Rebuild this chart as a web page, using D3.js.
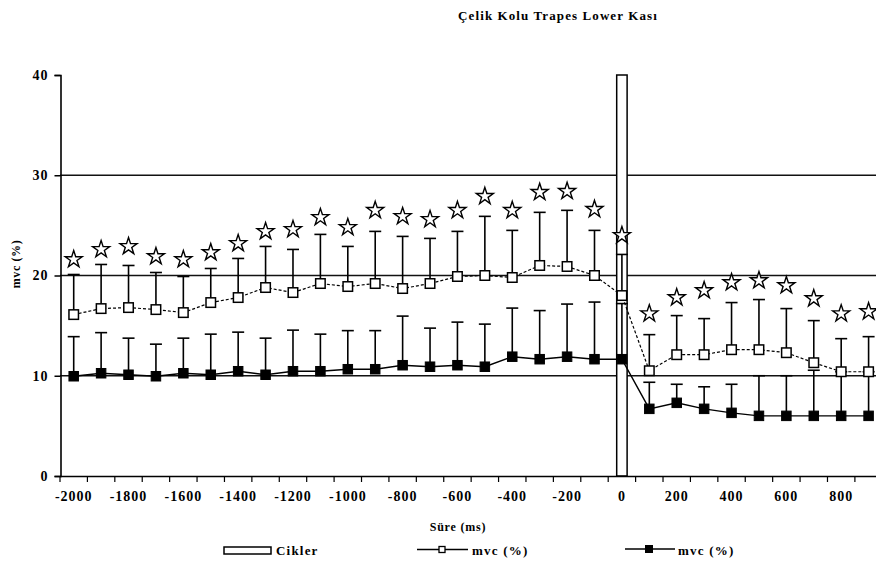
<!DOCTYPE html>
<html>
<head>
<meta charset="utf-8">
<script src="https://cdn.jsdelivr.net/npm/d3@7"></script>
<style>
  html, body { margin: 0; padding: 0; background: #fff; }
  svg { display: block; }
  text { font-family: "Liberation Serif", "DejaVu Serif", serif; font-weight: bold; fill: #000; }
</style>
</head>
<body>
<svg id="chart" width="876" height="563"></svg>
<script>
// Time points (ms) relative to the event at 0
const categories = [-2000, -1900, -1800, -1700, -1600, -1500, -1400, -1300, -1200, -1100,
                    -1000, -900, -800, -700, -600, -500, -400, -300, -200, -100,
                    0, 100, 200, 300, 400, 500, 600, 700, 800, 900];
const tickLabels = [-2000, -1800, -1600, -1400, -1200, -1000, -800, -600, -400, -200, 0, 200, 400, 600, 800];
const yTicks = [0, 10, 20, 30, 40];

// Cycle marker bar
const ciklerCats = [0];
const ciklerValues = [40];

// mvc (%) – open squares: mean and upper SD
const openMean = [16.1, 16.7, 16.8, 16.6, 16.3, 17.3, 17.8, 18.8, 18.3, 19.2,
                  18.9, 19.2, 18.7, 19.2, 19.9, 20.0, 19.8, 21.0, 20.9, 20.0,
                  18.0, 10.5, 12.1, 12.1, 12.6, 12.6, 12.3, 11.3, 10.4, 10.4];
const openSd   = [4.0, 4.4, 4.2, 3.7, 3.6, 3.4, 3.9, 4.1, 4.3, 4.9,
                  4.0, 5.2, 5.2, 4.5, 4.5, 5.9, 4.7, 5.3, 5.6, 4.5,
                  4.1, 3.6, 3.9, 3.6, 4.7, 5.0, 4.4, 4.2, 3.3, 3.5];

// mvc (%) – filled squares: mean and upper SD
const filledMean = [9.95, 10.25, 10.1, 9.95, 10.25, 10.1, 10.45, 10.1, 10.45, 10.45,
                    10.65, 10.65, 11.05, 10.9, 11.05, 10.9, 11.9, 11.65, 11.9, 11.65,
                    11.65, 6.7, 7.3, 6.7, 6.3, 6.0, 6.0, 6.0, 6.0, 6.0];
const filledSd   = [3.95, 4.05, 3.65, 3.2, 3.5, 4.05, 3.9, 3.65, 4.1, 3.7,
                    3.85, 3.85, 4.9, 3.85, 4.3, 4.25, 4.85, 4.85, 5.25, 5.7,
                    5.55, 2.65, 1.85, 2.2, 2.85, 4.0, 4.0, 4.55, 4.4, 4.4];

// Significance markers (star positions)
const starValues = [21.6, 22.6, 22.9, 21.9, 21.6, 22.3, 23.2, 24.4, 24.6, 25.8,
                    24.8, 26.5, 25.9, 25.6, 26.5, 27.9, 26.5, 28.3, 28.4, 26.6,
                    24.0, 16.2, 17.8, 18.5, 19.3, 19.5, 19.0, 17.7, 16.2, 16.4];

const svg = d3.select("#chart");

const plotLeft = 60, bandW = 27.41, plotTop = 75, plotBottom = 476;
const x = d3.scaleBand().domain(categories).range([plotLeft, plotLeft + bandW * categories.length]).padding(0);
const xc = c => x(c) + x.bandwidth() / 2;
const y = d3.scaleLinear().domain([0, 40]).range([plotBottom, plotTop]);

const rows = categories.map((c, i) => ({
  c, om: openMean[i], os: openSd[i], fm: filledMean[i], fs: filledSd[i], st: starValues[i]
}));

// Title
svg.append("text").attr("x", 558).attr("y", 20).attr("text-anchor", "middle")
  .style("font-size", "13px").style("letter-spacing", "1.1px")
  .text("Çelik Kolu Trapes Lower Kası");

// Horizontal gridlines
svg.append("g").selectAll("line").data(yTicks.filter(t => t > 0 && t < 40)).join("line")
  .attr("x1", plotLeft).attr("x2", 876)
  .attr("y1", d => y(d)).attr("y2", d => y(d))
  .attr("stroke", "#111").attr("stroke-width", 1.5);

// Cikler bar
const barW = x.bandwidth() * 0.38;
svg.append("g").selectAll("rect").data(ciklerCats.map((c, i) => ({ c, v: ciklerValues[i] }))).join("rect")
  .attr("x", d => xc(d.c) - barW / 2).attr("width", barW)
  .attr("y", d => y(d.v)).attr("height", d => y(0) - y(d.v))
  .attr("fill", "#fff").attr("stroke", "#000").attr("stroke-width", 1.5);

// Connecting lines
svg.append("path").datum(rows)
  .attr("d", d3.line().x(d => xc(d.c)).y(d => y(d.om)))
  .attr("fill", "none").attr("stroke", "#000").attr("stroke-width", 1.2).attr("stroke-dasharray", "3,2");
svg.append("path").datum(rows)
  .attr("d", d3.line().x(d => xc(d.c)).y(d => y(d.fm)))
  .attr("fill", "none").attr("stroke", "#000").attr("stroke-width", 1.4);

// Upper error bars
const capW = 12;
function errorBars(meanKey, sdKey) {
  const g = svg.append("g").attr("stroke", "#000").attr("stroke-width", 1.6);
  g.selectAll("line.v").data(rows).join("line").attr("class", "v")
    .attr("x1", d => xc(d.c)).attr("x2", d => xc(d.c))
    .attr("y1", d => y(d[meanKey])).attr("y2", d => y(d[meanKey] + d[sdKey]));
  g.selectAll("line.cap").data(rows).join("line").attr("class", "cap")
    .attr("x1", d => xc(d.c) - capW / 2).attr("x2", d => xc(d.c) + capW / 2)
    .attr("y1", d => y(d[meanKey] + d[sdKey])).attr("y2", d => y(d[meanKey] + d[sdKey]));
}
errorBars("om", "os");
errorBars("fm", "fs");

// Markers
const ms = 9.5;
svg.append("g").selectAll("rect").data(rows).join("rect")
  .attr("x", d => xc(d.c) - ms / 2).attr("y", d => y(d.om) - ms / 2)
  .attr("width", ms).attr("height", ms)
  .attr("fill", "#fff").attr("stroke", "#000").attr("stroke-width", 1.5);
svg.append("g").selectAll("rect").data(rows).join("rect")
  .attr("x", d => xc(d.c) - ms / 2).attr("y", d => y(d.fm) - ms / 2)
  .attr("width", ms).attr("height", ms)
  .attr("fill", "#000").attr("stroke", "#000").attr("stroke-width", 1);

// Stars
const star = d3.symbol().type(d3.symbolStar).size(90);
svg.append("g").selectAll("path").data(rows).join("path")
  .attr("transform", d => `translate(${xc(d.c)},${y(d.st)})`)
  .attr("d", star)
  .attr("fill", "#fff").attr("stroke", "#000").attr("stroke-width", 1.4).attr("stroke-linejoin", "miter");

// Y axis
const yAxis = svg.append("g").attr("transform", `translate(${plotLeft + 0.5},0)`)
  .call(d3.axisLeft(y).tickValues(yTicks).tickSize(6).tickPadding(6));
yAxis.select(".domain").attr("stroke", "#000").attr("stroke-width", 1.6);
yAxis.selectAll(".tick line").attr("stroke", "#000").attr("stroke-width", 1.5);
yAxis.selectAll(".tick text").style("font-size", "14px").style("letter-spacing", "1px")
  .style("font-family", "Liberation Serif").style("font-weight", "bold");

// X axis: baseline, ticks at category boundaries, labels at every other category
svg.append("line").attr("x1", plotLeft).attr("x2", 876).attr("y1", plotBottom + 0.5).attr("y2", plotBottom + 0.5)
  .attr("stroke", "#000").attr("stroke-width", 1.6);
svg.append("g").selectAll("line").data(categories).join("line")
  .attr("x1", d => x(d)).attr("x2", d => x(d))
  .attr("y1", plotBottom).attr("y2", plotBottom + 6)
  .attr("stroke", "#000").attr("stroke-width", 1.2);
const xAxis = svg.append("g").attr("transform", `translate(0,${plotBottom})`)
  .call(d3.axisBottom(x).tickValues(tickLabels).tickSize(0).tickPadding(15));
xAxis.select(".domain").remove();
xAxis.selectAll(".tick text").style("font-size", "14px").style("letter-spacing", "1px")
  .style("font-family", "Liberation Serif").style("font-weight", "bold");

// Axis titles
svg.append("text").attr("x", 458).attr("y", 531).attr("text-anchor", "middle")
  .style("font-size", "12px").style("letter-spacing", "0.8px").text("Süre (ms)");
svg.append("text").attr("transform", "translate(20,264) rotate(-90)").attr("text-anchor", "middle")
  .style("font-size", "12px").style("letter-spacing", "0.6px").text("mvc (%)");

// Legend
const lg = svg.append("g");
lg.append("rect").attr("x", 224).attr("y", 547).attr("width", 47).attr("height", 7)
  .attr("fill", "#fff").attr("stroke", "#000").attr("stroke-width", 1.5);
lg.append("text").attr("x", 276).attr("y", 555).style("font-size", "13px").style("letter-spacing", "1.2px").text("Cikler");

lg.append("line").attr("x1", 417).attr("x2", 468).attr("y1", 549.5).attr("y2", 549.5).attr("stroke", "#000").attr("stroke-width", 1.5);
lg.append("rect").attr("x", 439).attr("y", 546.5).attr("width", 6).attr("height", 6)
  .attr("fill", "#fff").attr("stroke", "#000").attr("stroke-width", 1.3);
lg.append("text").attr("x", 472).attr("y", 555).style("font-size", "13px").style("letter-spacing", "1.2px").text("mvc (%)");

lg.append("line").attr("x1", 625).attr("x2", 675).attr("y1", 549).attr("y2", 549).attr("stroke", "#000").attr("stroke-width", 1.5);
lg.append("rect").attr("x", 645).attr("y", 545).attr("width", 8).attr("height", 8).attr("fill", "#000");
lg.append("text").attr("x", 678).attr("y", 555).style("font-size", "13px").style("letter-spacing", "1.2px").text("mvc (%)");
</script>
</body>
</html>
